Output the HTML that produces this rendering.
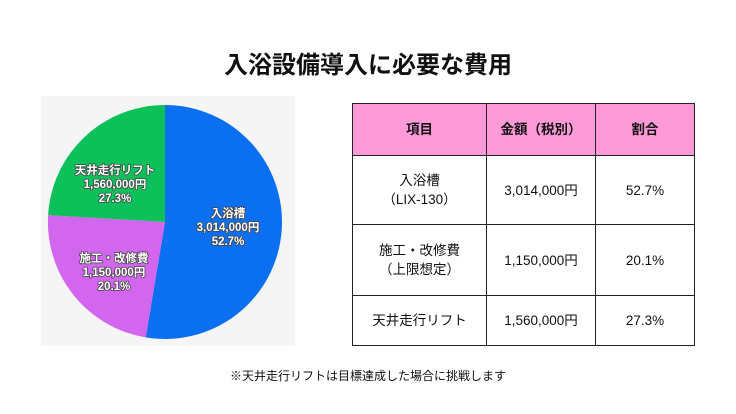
<!DOCTYPE html>
<html><head><meta charset="utf-8"><style>
body{margin:0;width:736px;height:414px;background:#fff;position:relative;overflow:hidden;font-family:"Liberation Sans","Noto Sans CJK JP",sans-serif;color:#111}
.t{position:absolute;left:0;width:736px;text-align:center;top:45px;font-size:24px;font-weight:bold}
.n{position:absolute;left:0;width:736px;text-align:center;top:367px;font-size:12px}
table{position:absolute;left:352px;top:103px;border-collapse:collapse}
td{border:1.5px solid #222;text-align:center;font-size:13.5px;line-height:19px;padding:0}
tr.h td{background:#ff9ad8;font-weight:bold;height:51px}
</style></head><body>
<div class="t">入浴設備導入に必要な費用</div>
<div style="position:absolute;left:41px;top:96px;width:254px;height:250px;background:#f5f5f5"></div>
<svg style="position:absolute;left:0;top:0" width="736" height="414">
<path d="M165,222 L165,105 A117,117 0 1 1 145.7,337.4 Z" fill="#0a6ff0"/>
<path d="M165,222 L145.7,337.4 A117,117 0 0 1 48.1,215.1 Z" fill="#d366ee"/>
<path d="M165,222 L48.1,215.1 A117,117 0 0 1 165,105 Z" fill="#0cc15a"/>
<g fill="#fff" font-size="11.5" font-weight="bold" text-anchor="middle" font-family="Liberation Sans,Noto Sans CJK JP,sans-serif" stroke="#444" stroke-width="1.6" paint-order="stroke" stroke-linejoin="round">
<text x="228" y="217">入浴槽</text><text x="228" y="231">3,014,000円</text><text x="228" y="245">52.7%</text>
<text x="115" y="174">天井走行リフト</text><text x="115" y="188">1,560,000円</text><text x="115" y="202">27.3%</text>
<text x="114" y="262">施工・改修費</text><text x="114" y="276">1,150,000円</text><text x="114" y="290">20.1%</text>
</g></svg>
<table>
<tr class="h"><td style="width:133px">項目</td><td style="width:108px">金額（税別）</td><td style="width:98px">割合</td></tr>
<tr><td style="height:68px">入浴槽<br>（LIX-130）</td><td>3,014,000円</td><td>52.7%</td></tr>
<tr><td style="height:70px">施工・改修費<br>（上限想定）</td><td>1,150,000円</td><td>20.1%</td></tr>
<tr><td style="height:49px">天井走行リフト</td><td>1,560,000円</td><td>27.3%</td></tr>
</table>
<div class="n">※天井走行リフトは目標達成した場合に挑戦します</div>
</body></html>
